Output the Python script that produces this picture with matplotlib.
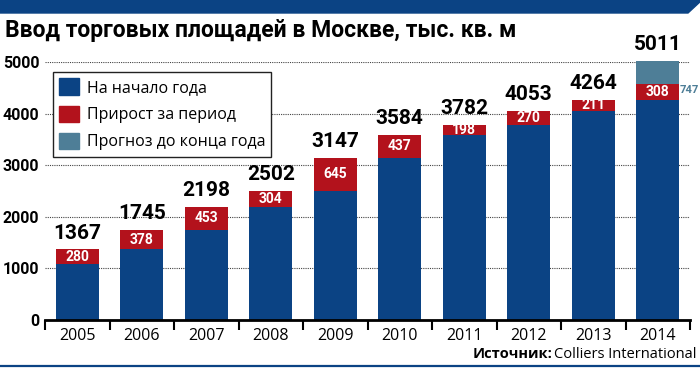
import matplotlib
matplotlib.use("Agg")
import matplotlib.pyplot as plt
from matplotlib import font_manager
from matplotlib.patches import Patch, Polygon
from matplotlib.lines import Line2D

years = ['2005', '2006', '2007', '2008', '2009', '2010', '2011', '2012', '2013', '2014']
totals = [1367, 1745, 2198, 2502, 3147, 3584, 3782, 4053, 4264, 5011]
increments = [280, 378, 453, 304, 645, 437, 198, 270, 211, 308]
# start-of-year stock is the previous year's total
base = [1087, 1367, 1745, 2198, 2502, 3147, 3584, 3782, 4053, 4264]
forecast_label = '747'
yticks = [0, 1000, 2000, 3000, 4000, 5000]

BLUE = '#0b4384'
RED = '#b3121c'
STEEL = '#4e7e97'

names = {f.name for f in font_manager.fontManager.ttflist}
cond = None
for cand in ['Liberation Sans Narrow', 'DejaVu Sans Condensed']:
    if cand in names:
        cond = cand
        break
if cond is None:
    cond = 'Roboto'
reg = 'Open Sans'

plt.rcParams['font.family'] = ['DejaVu Sans']

fig = plt.figure(figsize=(7, 3.7), dpi=100)
W, H = 700, 370
ax = fig.add_axes([45 / W, 50 / H, 645 / W, 258 / H])

x = list(range(len(years)))
# forecast segment: whatever is left of the total above base + increment
fc = [t - b - i for t, b, i in zip(totals, base, increments)]
bottoms2 = [b + i for b, i in zip(base, increments)]

ax.bar(x, base, width=0.67, color=BLUE, zorder=3, clip_on=False)
ax.bar(x, increments, bottom=base, width=0.67, color=RED, zorder=3, clip_on=False)
ax.bar(x, fc, bottom=bottoms2, width=0.67, color=STEEL, zorder=3, clip_on=False)

ax.set_xlim(-0.5, len(years) - 0.5)
ax.set_ylim(0, 5000)
ax.set_yticks(yticks)
ax.set_yticklabels([str(v) for v in yticks], fontfamily=cond, fontweight='bold', fontsize=11.5)
ax.set_xticks(x)
ax.set_xticklabels(years, fontfamily=reg, fontsize=11.5)
ax.tick_params(axis='y', length=0, pad=4)
ax.tick_params(axis='x', which='major', length=0, pad=6)
ax.set_xticks([v - 0.5 for v in range(len(years) + 1)], minor=True)
ax.tick_params(axis='x', which='minor', direction='out', length=7, width=1.5, color='black')

for s in ['left', 'right', 'top']:
    ax.spines[s].set_visible(False)
ax.spines['bottom'].set_linewidth(2)
ax.spines['bottom'].set_zorder(4)
ax.yaxis.grid(True, linestyle=(0, (1, 1)), linewidth=0.8, color='#444444', zorder=0)
ax.set_axisbelow(True)

for xi, t in zip(x, totals):
    ax.annotate(str(t), (xi, t), xytext=(0, 5), textcoords='offset points',
                ha='center', va='bottom', fontfamily=cond, fontweight='bold',
                fontsize=15, color='black', annotation_clip=False)

for xi, b, inc in zip(x, base, increments):
    ax.text(xi, b + inc / 2, str(inc), ha='center', va='center', color='white',
            fontfamily=cond, fontweight='bold', fontsize=10, zorder=5)

ax.text(9.34, bottoms2[-1] - 120, forecast_label, ha='left', va='center', color=STEEL,
        fontfamily=cond, fontweight='bold', fontsize=8, clip_on=False)

handles = [Patch(color=BLUE, label='На начало года'),
           Patch(color=RED, label='Прирост за период'),
           Patch(color=STEEL, label='Прогноз до конца года')]
leg = fig.legend(handles=handles, loc='upper left', bbox_to_anchor=(53 / W, 1 - 72 / H),
                 frameon=True, fancybox=False, edgecolor='#222222', framealpha=1,
                 prop={'family': reg, 'size': 11.5}, handlelength=1.2, handleheight=1.2,
                 handletextpad=0.5, labelspacing=0.6, borderpad=0.4, borderaxespad=0)
leg.get_frame().set_linewidth(1)

fig.text(5 / W, 1 - 30 / H, 'Ввод торговых площадей в Москве, тыс. кв. м', ha='left', va='center',
         fontfamily=cond, fontweight='bold', fontsize=16.5)

# top band and bottom rule
fig.patches.append(Polygon([[0, 1], [702 / W, 1], [688 / W, 1 - 13 / H], [0, 1 - 13 / H]],
                           closed=True, transform=fig.transFigure, color=BLUE))
fig.lines.append(Line2D([0, 1], [1 - 366 / H, 1 - 366 / H], transform=fig.transFigure,
                        color=BLUE, linewidth=1.6))

src = fig.text(697 / W, 1 - 354 / H, 'Colliers International', ha='right', va='center',
               fontfamily=reg, fontsize=10.5)
fig.canvas.draw()
bb = src.get_window_extent()
fig.text(bb.x0 / W - 2 / W, 1 - 354 / H, 'Источник:', ha='right', va='center',
         fontfamily=reg, fontweight='bold', fontsize=10.5)

fig.savefig('out.png', dpi=100)
